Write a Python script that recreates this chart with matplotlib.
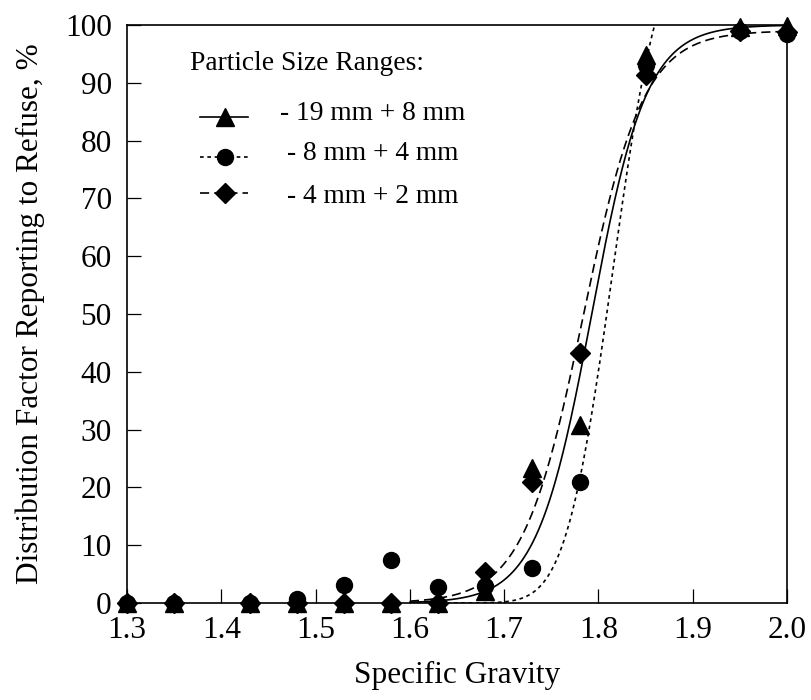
import numpy as np
import matplotlib
matplotlib.use("Agg")
import matplotlib.pyplot as plt
from matplotlib.lines import Line2D
from math import erf

plt.rcParams['font.family'] = ['Liberation Serif', 'DejaVu Serif']

# ---- data ----
sg = [1.30, 1.35, 1.43, 1.48, 1.53, 1.58, 1.63, 1.68, 1.73, 1.78, 1.85, 1.95, 2.00]
df_19_8 = [0, 0, 0, 0, 0, 0, 0, 2.0, 23.3, 30.8, 94.8, 99.6, 99.8]
df_8_4 = [0, 0, 0, 0.7, 3.1, 7.4, 2.7, 3.0, 6.0, 21.0, 93.0, 99.0, 98.5]
df_4_2 = [0, 0, 0, 0, 0, 0, 0, 5.4, 21.0, 43.3, 91.3, 99.0, 98.8]

labels = ['- 19 mm + 8 mm', '- 8 mm + 4 mm', '- 4 mm + 2 mm']
legend_title = 'Particle Size Ranges:'

# fitted partition curve parameters: (upper limit, cut point, spread, model)
fit_19_8 = (100.0, 1.7929, 0.0292, 'logistic')
fit_8_4 = (115.0, 1.8153, 0.0394, 'normal')
fit_4_2 = (99.0, 1.7837, 0.0321, 'logistic')

xticks = [1.3, 1.4, 1.5, 1.6, 1.7, 1.8, 1.9, 2.0]
yticks = [0, 10, 20, 30, 40, 50, 60, 70, 80, 90, 100]


def curve(x, p):
    a, x50, s, kind = p
    z = (x - x50) / s
    if kind == 'logistic':
        return a / (1 + np.exp(-z))
    return a * 0.5 * (1 + np.array([erf(v / np.sqrt(2)) for v in z]))


fig = plt.figure(figsize=(8.12, 7.0), dpi=100)
ax = fig.add_axes([127 / 812, 1 - 603 / 700, 660 / 812, 578 / 700])

xs = np.linspace(1.6, 2.0, 400)
ax.plot(xs, curve(xs, fit_19_8), color='black', lw=1.2, ls='-')
ax.plot(xs, curve(xs, fit_8_4), color='black', lw=1.2, ls=(0, (2.2, 2.2)))
ax.plot(xs, curve(xs, fit_4_2), color='black', lw=1.2, ls=(0, (5.5, 3)))

ms_t, ms_c, ms_d = 13.5, 11.5, 10
ax.plot(sg, df_8_4, 'o', color='black', ms=ms_c, clip_on=False, zorder=3)
ax.plot(sg, df_19_8, '^', color='black', ms=ms_t, clip_on=False, zorder=4)
ax.plot(sg, df_4_2, 'D', color='black', ms=ms_d, clip_on=False, zorder=5)

ax.set_xlim(1.3, 2.0)
ax.set_ylim(0, 100)
ax.set_xticks(xticks)
ax.set_xticklabels([f'{v:.1f}' for v in xticks])
ax.set_yticks(yticks)
ax.tick_params(direction='in', length=10, width=0.9, labelsize=22.5,
               top=False, right=False)
ax.tick_params(axis='y', pad=11)
ax.tick_params(axis='x', pad=9)
for sp in ax.spines.values():
    sp.set_linewidth(1.2)

ax.set_xlabel('Specific Gravity', fontsize=22.5, labelpad=12)
ax.set_ylabel('Distribution Factor Reporting to Refuse, %', fontsize=22.5, labelpad=14)

# legend (manual)
tr = ax.transAxes
ax.text(0.0955, 0.922, legend_title, transform=tr, fontsize=19.8,
        ha='left', va='baseline')
hx = [0.1106, 0.1833]
mx = 0.1485
entries = [
    (0.8408, '-', '^', ms_t, 0.8356, labels[0]),
    (0.7716, (0, (2.2, 2.2)), 'o', ms_c, 0.7664, labels[1]),
    (0.7093, (0, (5.5, 3)), 'D', ms_d, 0.6920, labels[2]),
]
for ly, ls, mk, ms, ty, lab in entries:
    ax.add_line(Line2D(hx, [ly, ly], transform=tr, color='black', lw=1.2, ls=ls))
    ax.add_line(Line2D([mx], [ly], transform=tr, color='black', marker=mk, ms=ms, ls='none'))
    ax.text(0.3727, ty, lab, transform=tr, fontsize=19.8, ha='center', va='baseline')

fig.savefig('out.png', dpi=100)
